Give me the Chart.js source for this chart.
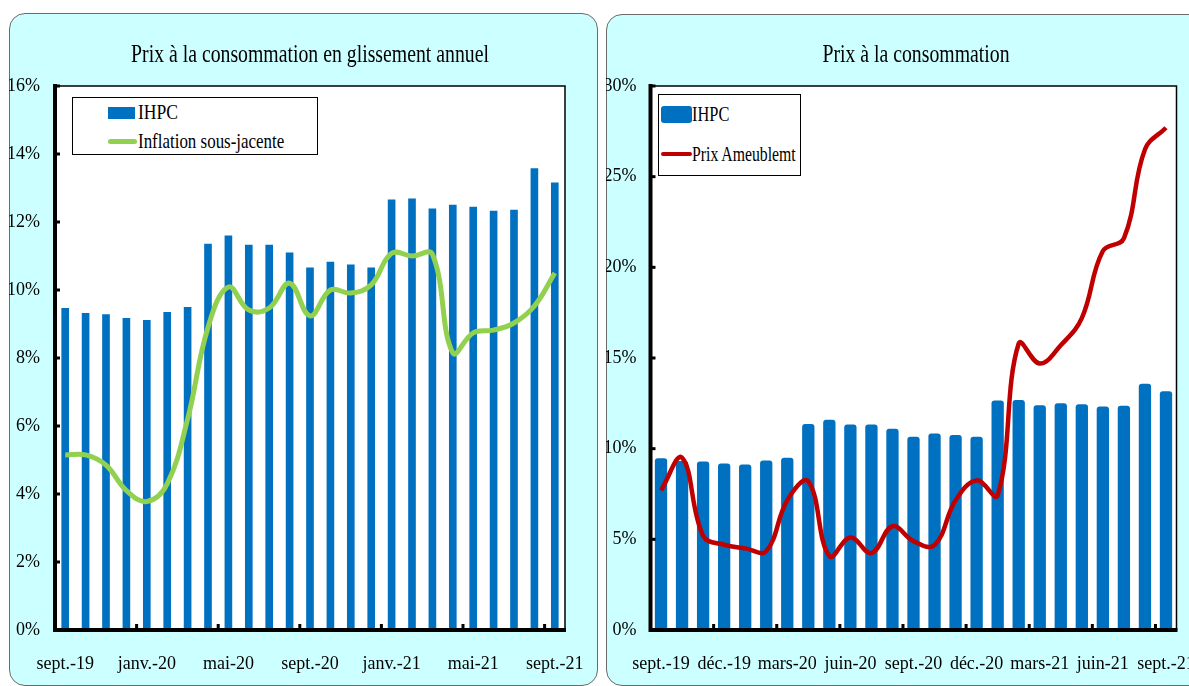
<!DOCTYPE html>
<html lang="fr">
<head>
<meta charset="utf-8">
<script src="https://cdn.jsdelivr.net/npm/chart.js@4.4.0/dist/chart.umd.min.js"></script>
<style>
  body { margin: 0; width: 1189px; height: 686px; overflow: hidden; background: #fff; position: relative; font-family: "Liberation Serif", serif; color: #000; }
  .panel { position: absolute; background: #ccffff; border: 1px solid #6b6b6b; border-radius: 16px; }
  #p1 { left: 9px; top: 13px; width: 587px; height: 671px; }
  #p2 { left: 606px; top: 14px; width: 640px; height: 670px; }
  canvas { position: absolute; }
  #c1 { left: 9px; top: 13px; }
  #c2 { left: 606px; top: 14px; }
  .title { position: absolute; top: 41px; font-size: 26px; line-height: 26px; white-space: nowrap; transform: translateX(-50%) scaleX(0.76); }
  .legend { position: absolute; background: #fff; border: 1.5px solid #000; box-sizing: border-box; }
  .sw { position: absolute; }
  .lt { position: absolute; white-space: nowrap; transform-origin: left center; }
</style>
</head>
<body>
<div class="panel" id="p1"></div>
<div class="panel" id="p2"></div>
<canvas id="c1" width="587" height="673"></canvas>
<canvas id="c2" width="620" height="672"></canvas>

<div class="title" style="left:310px">Prix à la consommation en glissement annuel</div>
<div class="title" style="left:916px">Prix à la consommation</div>

<div class="legend" style="left:72px; top:97px; width:246px; height:58px"></div>
<div class="sw" style="left:108px; top:107px; width:27px; height:12px; background:#0070c0"></div>
<div class="sw" style="left:108px; top:139px; width:29px; height:5px; border-radius:3px; background:#92d050"></div>
<div class="lt" style="left:138px; top:101px; font-size:22px; line-height:22px; transform:scaleX(0.8)">IHPC</div>
<div class="lt" style="left:138px; top:130px; font-size:22px; line-height:22px; transform:scaleX(0.77)">Inflation sous-jacente</div>

<div class="legend" style="left:658px; top:94px; width:143px; height:82px"></div>
<div class="sw" style="left:661px; top:106px; width:31px; height:17px; border-radius:3px; background:#0070c0"></div>
<div class="sw" style="left:661px; top:152px; width:31px; height:4px; border-radius:2px; background:#c00000"></div>
<div class="lt" style="left:692px; top:104px; font-size:21px; line-height:21px; transform:scaleX(0.78)">IHPC</div>
<div class="lt" style="left:692px; top:144px; font-size:21px; line-height:21px; transform:scaleX(0.75)">Prix Ameublemt</div>

<script>
// months sept.-19 to sept.-21
var months = ['sept.-19', 'oct.-19', 'nov.-19', 'déc.-19', 'janv.-20', 'févr.-20', 'mars-20', 'avr.-20', 'mai-20', 'juin-20', 'juil.-20', 'août-20', 'sept.-20', 'oct.-20', 'nov.-20', 'déc.-20', 'janv.-21', 'févr.-21', 'mars-21', 'avr.-21', 'mai-21', 'juin-21', 'juil.-21', 'août-21', 'sept.-21'];

// IHPC, glissement annuel (%)
var ihpc = [9.47, 9.32, 9.29, 9.18, 9.12, 9.35, 9.5, 11.36, 11.6, 11.33, 11.33, 11.1, 10.66, 10.83, 10.75, 10.66, 12.66, 12.69, 12.4, 12.51, 12.45, 12.33, 12.36, 13.58, 13.16];

// inflation sous-jacente (%)
var inflationSousJacente = [5.15, 5.15, 4.85, 4.1, 3.78, 4.3, 6.2, 8.9, 10.09, 9.41, 9.47, 10.2, 9.24, 10.0, 9.91, 10.15, 11.08, 11.0, 11.05, 8.15, 8.74, 8.82, 9.03, 9.53, 10.5];

// prix ameublement (%)
var prixAmeublement = [7.7, 9.5, 5.2, 4.7, 4.5, 4.35, 7.15, 8.2, 4.07, 5.1, 4.24, 5.72, 4.9, 4.68, 7.15, 8.25, 7.43, 15.8, 14.7, 15.7, 17.2, 20.9, 21.6, 26.5, 27.7];

var tickFont = { family: 'Liberation Serif', size: 18 };

// white plot area, thick left/bottom axis, small tick marks inside
function framePlugin(every) {
    return {
        id: 'frame',
        beforeDraw: function (chart) {
            var a = chart.chartArea;
            var ctx = chart.ctx;
            ctx.save();
            ctx.fillStyle = '#fff';
            ctx.fillRect(a.left, a.top, a.right - a.left, a.bottom - a.top);
            ctx.restore();
        },
        afterDraw: function (chart) {
            var a = chart.chartArea;
            var ctx = chart.ctx;
            var xs = chart.scales.x;
            var ys = chart.scales.y;
            ctx.save();
            ctx.strokeStyle = '#000';
            ctx.lineWidth = 1.5;
            ctx.beginPath();
            ctx.moveTo(a.left, a.top);
            ctx.lineTo(a.right, a.top);
            ctx.lineTo(a.right, a.bottom);
            ctx.stroke();
            ctx.lineWidth = 4;
            ctx.beginPath();
            ctx.moveTo(a.left, a.top - 2);
            ctx.lineTo(a.left, a.bottom);
            ctx.lineTo(a.right + 1, a.bottom);
            ctx.stroke();
            ctx.fillStyle = '#000';
            ys.ticks.forEach(function (t) {
                var y = ys.getPixelForValue(t.value);
                ctx.fillRect(a.left, y - 1.5, 5, 3);
            });
            var half = (xs.getPixelForValue(1) - xs.getPixelForValue(0)) / 2;
            for (var i = every; i < chart.data.labels.length; i += every) {
                var px = xs.getPixelForValue(i) - half;
                ctx.fillRect(px - 1.5, a.bottom - 6, 3, 6);
            }
            ctx.restore();
        }
    };
}

function makeChart(id, lineData, lineColor, lineWidth, barPct, radius, yMax, yStep, every, pad, yWidth, yPad) {
    return new Chart(document.getElementById(id), {
        type: 'bar',
        data: {
            labels: months,
            datasets: [{
                type: 'line',
                label: 'line',
                data: lineData,
                borderColor: lineColor,
                borderWidth: lineWidth,
                pointRadius: 0,
                tension: 0.4,
                fill: false,
                order: 0
            }, {
                label: 'IHPC',
                data: ihpc,
                backgroundColor: '#0070c0',
                borderRadius: radius,
                categoryPercentage: 1,
                barPercentage: barPct,
                order: 1
            }]
        },
        options: {
            responsive: false,
            animation: false,
            events: [],
            layout: { padding: pad },
            plugins: { legend: { display: false }, title: { display: false }, tooltip: { enabled: false } },
            scales: {
                x: {
                    grid: { display: false, drawTicks: false },
                    border: { display: false },
                    afterFit: function (s) { s.height = 56; s.paddingLeft = 0; s.paddingRight = 0; },
                    ticks: {
                        autoSkip: false,
                        maxRotation: 0,
                        padding: 23,
                        color: '#000',
                        font: tickFont,
                        callback: function (v, i) { return i % every === 0 ? months[i] : ''; }
                    }
                },
                y: {
                    min: 0,
                    max: yMax,
                    grid: { display: false, drawTicks: false },
                    border: { display: false },
                    afterFit: function (s) { s.width = yWidth; s.paddingTop = 0; s.paddingBottom = 0; },
                    ticks: {
                        stepSize: yStep,
                        padding: yPad,
                        color: '#000',
                        font: tickFont,
                        callback: function (v) { return v + '%'; }
                    }
                }
            }
        },
        plugins: [framePlugin(every)]
    });
}

makeChart('c1', inflationSousJacente, '#92d050', 5, 0.375, 0, 16, 2, 4, { top: 73, right: 31, left: 0, bottom: 0 }, 46, 15);
makeChart('c2', prixAmeublement, '#c00000', 4.5, 0.585, 3, 30, 5, 3, { top: 72, right: 49.5, left: 0, bottom: 0 }, 44.5, 14);
</script>
</body>
</html>
